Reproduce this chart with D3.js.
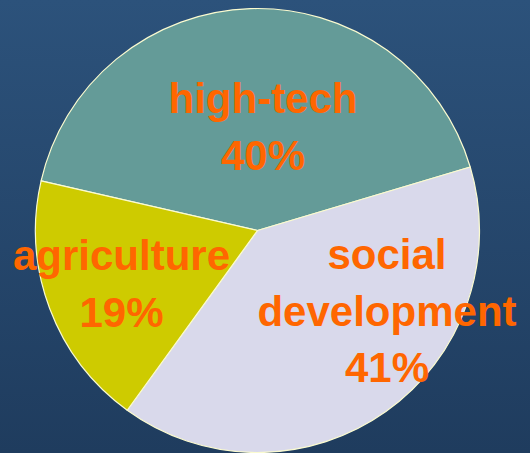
<!DOCTYPE html>
<html>
<head>
<meta charset="utf-8">
<script src="https://cdn.jsdelivr.net/npm/d3@7"></script>
<style>
  html, body { margin: 0; padding: 0; }
  svg { display: block; }
</style>
</head>
<body>
<svg id="chart"></svg>
<script>
// slice shares as drawn (the printed labels are rounded differently)
const categories = ['high-tech', 'social development', 'agriculture']
const shares = [41.8, 39.6, 18.6]
const labelText = [['high-tech', '40%'], ['social', 'development', '41%'], ['agriculture', '19%']]
const colors = ['#649b98', '#d9d9eb', '#cecb00']

const width = 530, height = 453
const cx = 257.5, cy = 230.5, radius = 222

// label block anchors (first baseline), relative to pie centre
const labelAt = [[5.5, -117.5], [129.5, 38.5], [-136, 39.5]]
const lineGap = 56.5

let svg = d3.select('#chart')
  .attr('width', width)
  .attr('height', height)

let grad = svg.append('defs').append('linearGradient')
  .attr('id', 'bg')
  .attr('x1', 0).attr('y1', 0)
  .attr('x2', 0).attr('y2', 1)
grad.append('stop').attr('offset', '0%').attr('stop-color', '#2c527b')
grad.append('stop').attr('offset', '100%').attr('stop-color', '#1f3c5e')

svg.append('rect')
  .attr('width', width)
  .attr('height', height)
  .attr('fill', 'url(#bg)')

let pie = d3.pie()
  .sort(null)
  .startAngle(-77.1 * Math.PI / 180)
  .endAngle((360 - 77.1) * Math.PI / 180)

let arc = d3.arc().innerRadius(0).outerRadius(radius)

let g = svg.append('g')
  .attr('transform', `translate(${cx},${cy})`)

g.selectAll('path.slice')
  .data(pie(shares))
  .enter()
  .append('path')
  .attr('class', 'slice')
  .attr('d', arc)
  .attr('fill', (d, i) => colors[i])
  .attr('stroke', '#fbfbd0')
  .attr('stroke-width', 1.2)
  .attr('stroke-linejoin', 'round')

let labels = g.selectAll('text.label')
  .data(categories)
  .enter()
  .append('text')
  .attr('class', 'label')
  .attr('text-anchor', 'middle')
  .attr('font-family', '"Liberation Sans", Arial, sans-serif')
  .attr('font-weight', 'bold')
  .style('font-size', '42px')
  .style('fill', '#ff6600')

labels.selectAll('tspan')
  .data((d, i) => labelText[i].map(t => ({ t: t, i: i })))
  .enter()
  .append('tspan')
  .attr('x', d => labelAt[d.i][0])
  .attr('y', (d, j) => labelAt[d.i][1] + j * lineGap)
  .text(d => d.t)
</script>
</body>
</html>
